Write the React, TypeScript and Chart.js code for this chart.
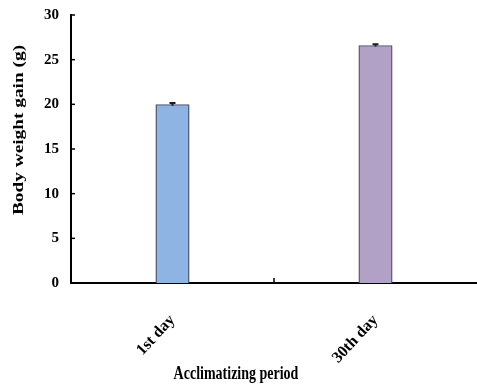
import React, { useEffect, useRef } from "react";
import { Chart, registerables } from "chart.js";

Chart.register(...registerables);

const categories = ["1st day", "30th day"];
const bodyWeightGain = [20.0, 26.6];
const errors = [0.15, 0.12];
const barColors = ["#8DB4E2", "#B2A1C7"];
const barBorders = ["#4a5470", "#5d5470"];
const yTicks = [0, 5, 10, 15, 20, 25, 30];
const yTitle = "Body weight gain (g)";
const xTitle = "Acclimatizing period";

const FONT = "'Liberation Serif', 'Times New Roman', serif";

const decorPlugin = {
  id: "decor",
  afterDatasetsDraw(chart: any) {
    const ctx = chart.ctx;
    const x = chart.scales.x;
    const y = chart.scales.y;
    const area = chart.chartArea;
    ctx.save();
    ctx.strokeStyle = "#000";
    ctx.lineWidth = 1.5;
    yTicks.forEach((v) => {
      const py = y.getPixelForValue(v);
      ctx.beginPath();
      ctx.moveTo(area.left, py);
      ctx.lineTo(area.left + 4, py);
      ctx.stroke();
    });
    for (let i = 0; i < categories.length - 1; i++) {
      const px = (x.getPixelForValue(i) + x.getPixelForValue(i + 1)) / 2;
      ctx.beginPath();
      ctx.moveTo(px, area.bottom);
      ctx.lineTo(px, area.bottom - 5);
      ctx.stroke();
    }
    ctx.strokeStyle = "#1b1b33";
    ctx.lineWidth = 2;
    bodyWeightGain.forEach((v, i) => {
      const px = x.getPixelForValue(i);
      const top = y.getPixelForValue(v + errors[i]);
      const bot = y.getPixelForValue(v - errors[i]);
      ctx.beginPath();
      ctx.moveTo(px, top);
      ctx.lineTo(px, bot);
      ctx.moveTo(px - 3, top);
      ctx.lineTo(px + 3, top);
      ctx.stroke();
    });
    ctx.fillStyle = "#000";
    ctx.font = `bold 14px ${FONT}`;
    ctx.textAlign = "center";
    ctx.textBaseline = "middle";
    ctx.save();
    ctx.translate(19, 130);
    ctx.scale(1, 1.38);
    ctx.rotate(-Math.PI / 2);
    ctx.fillText(yTitle, 0, 0);
    ctx.restore();
    ctx.save();
    ctx.translate(236, 374);
    ctx.scale(1, 1.3);
    ctx.fillText(xTitle, 0, 0);
    ctx.restore();
    ctx.restore();
  },
};

export default function App() {
  const ref = useRef<HTMLCanvasElement>(null);
  useEffect(() => {
    document.body.style.margin = "0";
    const chart = new Chart(ref.current!, {
      type: "bar",
      data: {
        labels: categories,
        datasets: [
          {
            data: bodyWeightGain,
            backgroundColor: barColors,
            borderColor: barBorders,
            borderWidth: 1.5,
            categoryPercentage: 1,
            barPercentage: 0.168,
          },
        ],
      },
      options: {
        responsive: false,
        animation: false,
        layout: { padding: { top: 15, right: 0, left: 0, bottom: 0 } },
        plugins: { legend: { display: false }, tooltip: { enabled: false } },
        scales: {
          x: {
            grid: { display: false, drawTicks: false },
            border: { display: true, color: "#000", width: 2 },
            ticks: {
              color: "#000",
              font: { family: FONT, size: 16, weight: "bold" },
              maxRotation: 47,
              minRotation: 47,
              padding: 28,
            },
            afterFit: (s: any) => {
              s.height = 103;
              s.paddingLeft = 0;
              s.paddingRight = 0;
            },
          },
          y: {
            min: 0,
            max: 30,
            grid: { display: false, drawTicks: false },
            border: { display: true, color: "#000", width: 2 },
            ticks: {
              stepSize: 5,
              color: "#000",
              font: { family: FONT, size: 15, weight: "bold" },
              padding: 12,
            },
            afterFit: (s: any) => {
              s.width = 71;
              s.paddingTop = 0;
              s.paddingBottom = 0;
            },
          },
        },
      },
      plugins: [decorPlugin],
    });
    return () => chart.destroy();
  }, []);
  return <canvas ref={ref} width={477} height={386} style={{ display: "block" }} />;
}
